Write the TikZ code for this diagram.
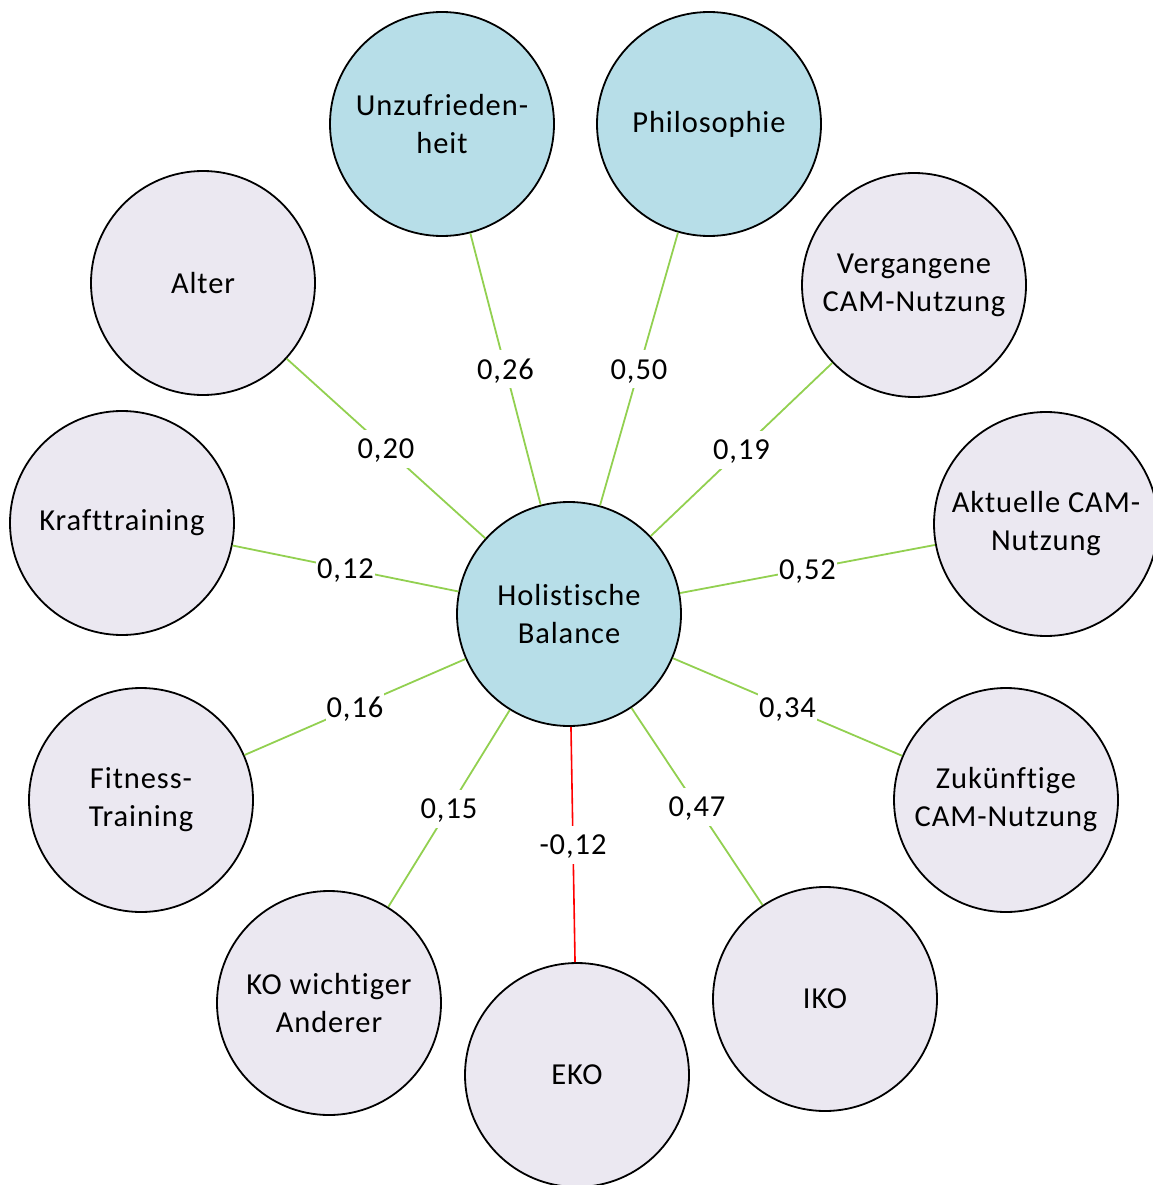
\documentclass[tikz,border=0pt]{standalone}
\usepackage{fontspec}
\setmainfont{Carlito}[LetterSpace=3,Ligatures={NoCommon}]
\definecolor{bluefill}{RGB}{183,222,232}
\definecolor{grayfill}{RGB}{235,232,241}
\definecolor{linegreen}{RGB}{146,208,80}
\definecolor{linered}{RGB}{255,0,0}
\begin{document}
\begin{tikzpicture}[x=1pt,y=-1pt,
  bubble/.style={circle,draw=black,line width=1.8pt,minimum size=224pt,inner sep=0pt,align=center,
    font=\fontsize{30.5}{38}\selectfont},
  core/.style={bubble,fill=bluefill},
  outer/.style={bubble,fill=grayfill},
  conn/.style={draw=linegreen,line width=1.8pt},
  negconn/.style={draw=linered,line width=1.6pt},
  lbl/.style={fill=white,inner xsep=1pt,inner ysep=0pt,text height=29pt,text depth=9pt,
    font=\fontsize{30.5}{38}\selectfont}]
\useasboundingbox (0,0) rectangle (1152,1185);
\node[core]  (hb)   at (569,614)  {Holistische\\Balance};
\node[core]  (unz)  at (442,124)  {Unzufrieden-\\heit};
\node[core]  (phil) at (709,124)  {Philosophie};
\node[outer] (alt)  at (203,283)  {Alter};
\node[outer] (verg) at (914,285)  {Vergangene\\CAM-Nutzung};
\node[outer] (kraft) at (122,523) {Krafttraining};
\node[outer] (akt)  at (1046,524) {Aktuelle CAM-\\Nutzung};
\node[outer] (fit)  at (141,800)  {Fitness-\\Training};
\node[outer] (zuk)  at (1006,800) {Zukünftige\\CAM-Nutzung};
\node[outer] (ko)   at (329,1003) {KO wichtiger\\Anderer};
\node[outer] (eko)  at (577,1075) {EKO};
\node[outer] (iko)  at (825,999)  {IKO};
\draw[conn] (hb) -- node[lbl] {0,26} (unz);
\draw[conn] (hb) -- node[lbl] {0,50} (phil);
\draw[conn] (hb) -- node[lbl] {0,20} (alt);
\draw[conn] (hb) -- node[lbl] {0,19} (verg);
\draw[conn] (hb) -- node[lbl] {0,12} (kraft);
\draw[conn] (hb) -- node[lbl] {0,52} (akt);
\draw[conn] (hb) -- node[lbl] {0,16} (fit);
\draw[conn] (hb) -- node[lbl] {0,34} (zuk);
\draw[conn] (hb) -- node[lbl] {0,15} (ko);
\draw[negconn] (hb) -- node[lbl] {-0,12} (eko);
\draw[conn] (hb) -- node[lbl] {0,47} (iko);
\end{tikzpicture}
\end{document}
